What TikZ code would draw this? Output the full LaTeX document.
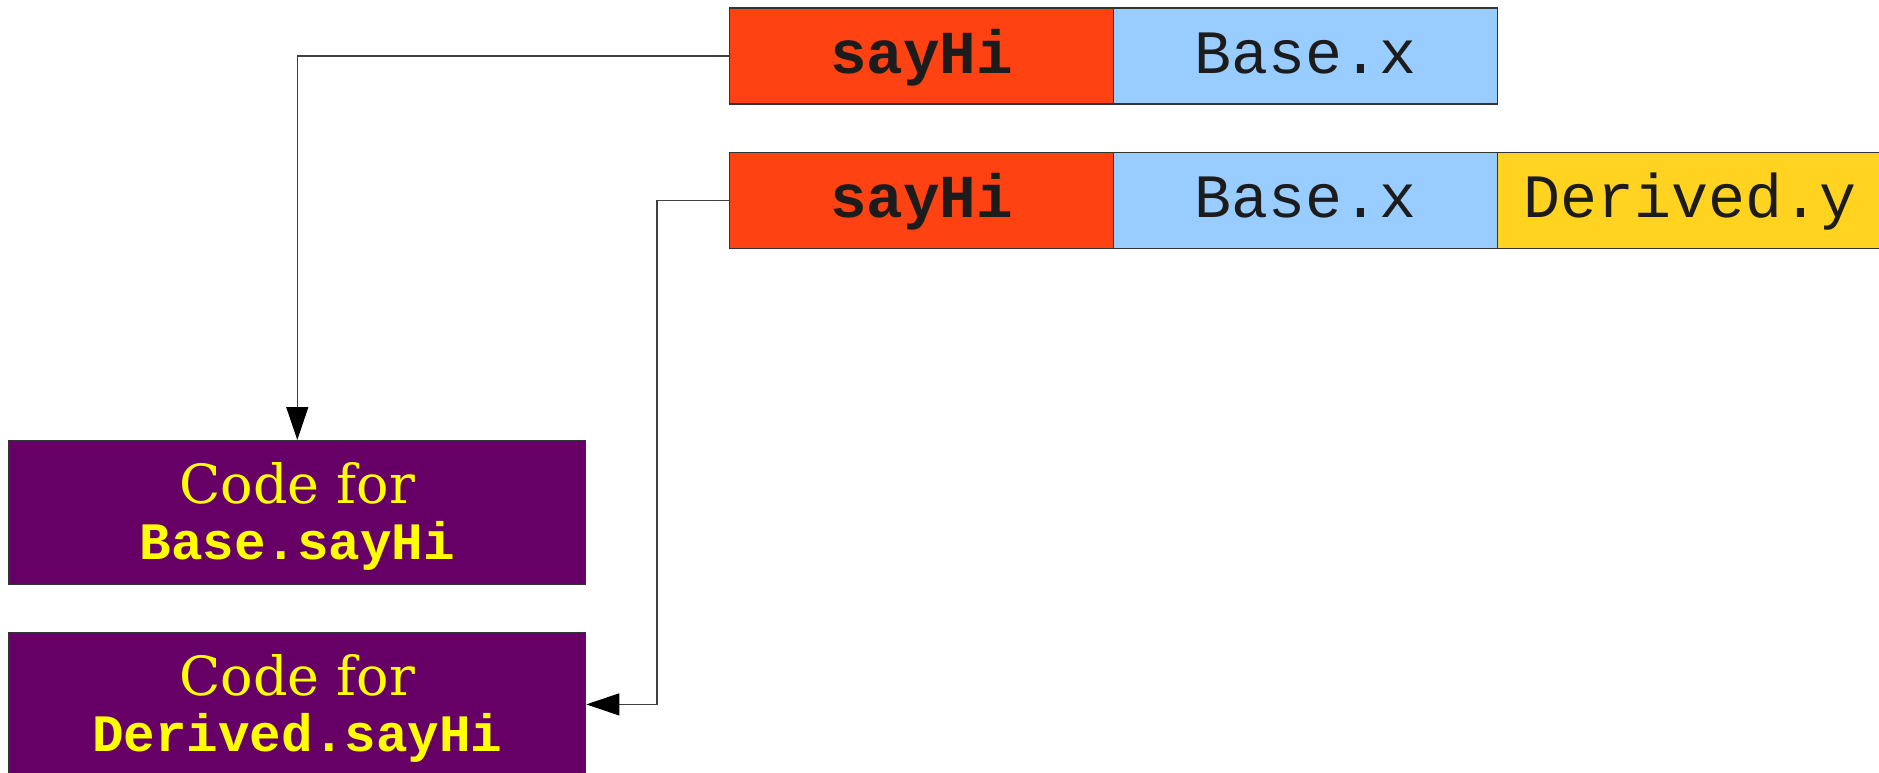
\documentclass[tikz,border=0pt]{standalone}
\usepackage{fontspec}
\usetikzlibrary{arrows.meta}
\newfontfamily\monof{Liberation Mono}
\newfontfamily\serf{DejaVu Serif}
\definecolor{cellred}{HTML}{FF4211}
\definecolor{cellblue}{HTML}{99CCFF}
\definecolor{cellyellow}{HTML}{FFD320}
\definecolor{codepurple}{HTML}{660066}
\definecolor{codetext}{HTML}{FFFF00}
\definecolor{celltext}{HTML}{1C1C1C}
\definecolor{edgegray}{HTML}{333333}
\newcommand{\topstrut}{\rule{0pt}{24.5pt}}
\tikzset{
  cell/.style={draw=edgegray, line width=0.7pt, rectangle, anchor=north west,
    inner sep=0pt, minimum width=192pt, minimum height=48pt,
    text height=32.7pt, text depth=15.3pt, text=celltext,
    font=\monof\fontsize{30.8}{32}\selectfont},
  codebox/.style={draw=edgegray, line width=0.7pt, rectangle, anchor=north west,
    fill=codepurple, text=codetext, inner sep=0pt, align=center,
    minimum width=288.3pt, minimum height=72pt,
    font=\fontsize{27}{28}\selectfont},
  conn/.style={draw=black!75, line width=0.6pt,
    -{Triangle[length=16.5pt,width=11pt,color=black]}}
}
\begin{document}
\begin{tikzpicture}[x=0.5pt,y=-0.5pt]
\useasboundingbox (0,0) rectangle (1879,772);
% object rows
\node[cell, fill=cellred, font=\monof\bfseries\fontsize{30.5}{32}\selectfont] (s1) at (729,7.3) {sayHi};
\node[cell, fill=cellblue] (b1) at (1113,7.3) {Base.x};
\node[cell, fill=cellred, font=\monof\bfseries\fontsize{30.5}{32}\selectfont] (s2) at (729,151.7) {sayHi};
\node[cell, fill=cellblue] (b2) at (1113,151.7) {Base.x};
\node[cell, fill=cellyellow] (d2) at (1497,151.7) {Derived.y};
% code boxes
\node[codebox] (c1) at (8.3,440) {{\topstrut\serf Code for}\\{\monof\bfseries\fontsize{26.3}{28}\selectfont Base.sayHi}};
\node[codebox] (c2) at (8.3,631.7) {{\topstrut\serf Code for}\\{\monof\bfseries\fontsize{26.3}{28}\selectfont Derived.sayHi}};
% connectors
\coordinate (k) at (657,0);
\draw[conn] (s1.west) -| (c1.north);
\draw[conn] (s2.west) -- (s2.west -| k) |- (c2.east);
\end{tikzpicture}
\end{document}
